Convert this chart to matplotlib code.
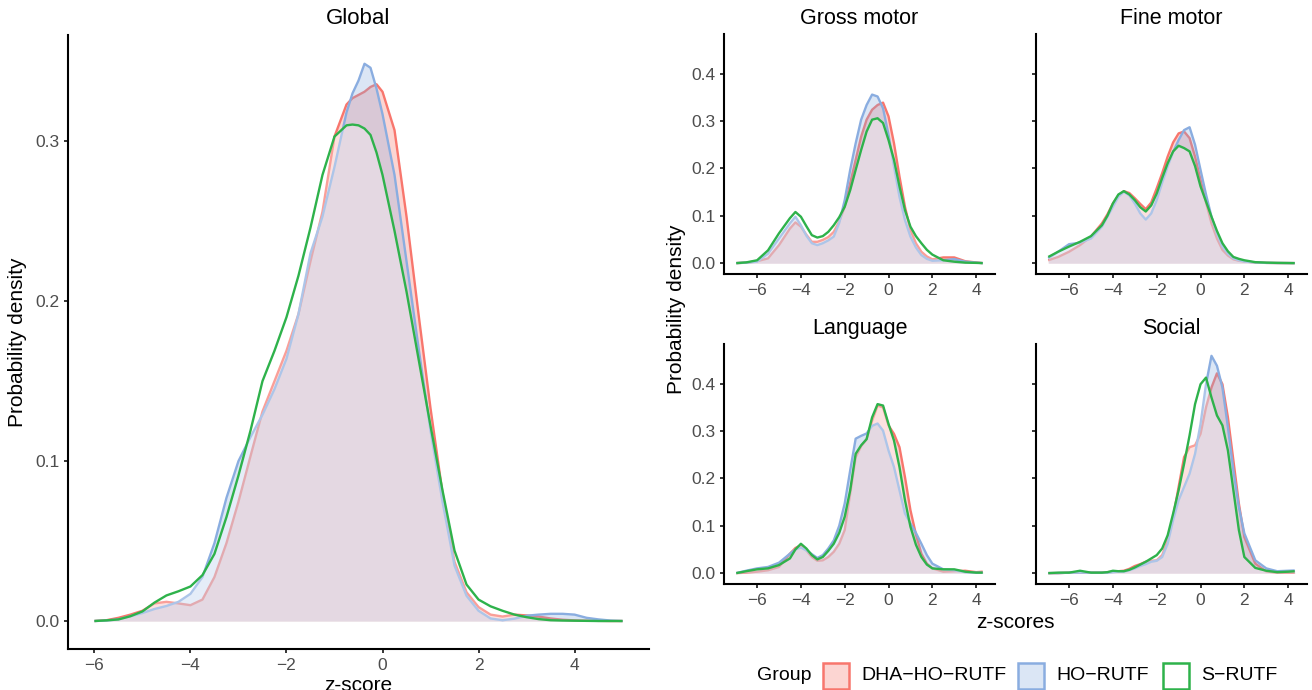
import matplotlib
matplotlib.use("Agg")
import matplotlib.pyplot as plt
from matplotlib.patches import Rectangle
import numpy as np

plt.rcParams['font.family'] = ['Liberation Sans', 'DejaVu Sans']

W, H = 1312, 690

groups = ['DHA\u2212HO\u2212RUTF', 'HO\u2212RUTF', 'S\u2212RUTF']
line_cols = ['#F8766D', '#8AADE0', '#2EB24B']
fill_cols = ['#F8766D', '#8AADE0', '#FFFFFF']

# Global panel
z_global = [-6, -5.75, -5.5, -5.25, -5, -4.75, -4.5, -4.25, -4, -3.75, -3.5, -3.25, -3,
            -2.75, -2.5, -2.25, -2, -1.75, -1.5, -1.25, -1, -0.75, -0.625, -0.5, -0.375,
            -0.25, -0.125, 0, 0.25, 0.5, 0.75, 1, 1.25, 1.5, 1.75, 2, 2.25, 2.5, 2.75, 3,
            3.25, 3.5, 3.75, 4, 4.25, 4.5, 4.75, 5]
global_dha = [0, 0.0005, 0.002, 0.004, 0.0064, 0.011, 0.012, 0.011, 0.0099, 0.0134, 0.0275,
              0.0487, 0.0746, 0.103, 0.131, 0.150, 0.169, 0.192, 0.225, 0.256, 0.303, 0.323,
              0.327, 0.329, 0.331, 0.334, 0.3357,
              0.331, 0.307, 0.253, 0.192, 0.133, 0.080, 0.037, 0.018, 0.0087, 0.004, 0.0028,
              0.004, 0.0035, 0.0028, 0.0016, 0.0008, 0.0004, 0.0002, 0.0001, 0, 0]
global_ho = [0, 0.0003, 0.001, 0.003, 0.005, 0.0075, 0.0094, 0.012, 0.017, 0.0275, 0.0487,
             0.077, 0.100, 0.115, 0.129, 0.145, 0.164, 0.192, 0.230, 0.253, 0.284, 0.318,
             0.330, 0.338, 0.3485, 0.346, 0.333,
             0.317, 0.279, 0.225, 0.171, 0.119, 0.0746, 0.0346, 0.0158, 0.0064, 0.0016, 0.0005,
             0.0015, 0.0033, 0.004, 0.0045, 0.0045, 0.004, 0.002, 0.001, 0.0003, 0]
global_s = [0, 0.0004, 0.001, 0.003, 0.006, 0.0115, 0.016, 0.0186, 0.0216, 0.0287, 0.042,
            0.065, 0.091, 0.119, 0.150, 0.169, 0.190, 0.216, 0.246, 0.279, 0.303, 0.310,
            0.3105, 0.310, 0.308, 0.304, 0.293,
            0.279, 0.244, 0.206, 0.164, 0.122, 0.0816, 0.044, 0.0228, 0.0134, 0.0092, 0.0064,
            0.004, 0.0024, 0.0012, 0.0005, 0.0003, 0.0002, 0.0001, 0, 0, 0]

# Domain panels
z_dom = [-6.95, -6.5, -6, -5.5, -5, -4.5, -4.25, -4, -3.75, -3.5, -3.25, -3, -2.75, -2.5,
         -2.25, -2, -1.75, -1.5, -1.25, -1, -0.75, -0.5, -0.25, 0, 0.25, 0.5, 0.75, 1,
         1.25, 1.5, 1.75, 2, 2.5, 3, 3.5, 4, 4.3]

gross_dha = [0, .001, .004, .010, .038, .073, .086, .077, .060, .045, .045, .049, .055, .066,
             .088, .119, .169, .218, .267, .303, .324, .334, .339, .310, .253, .183, .119, .070,
             .042, .024, .014, .008, .012, .012, .004, .0014, 0]
gross_ho = [0, .001, .003, .020, .052, .084, .098, .080, .058, .042, .038, .042, .048, .056,
            .085, .133, .197, .253, .303, .334, .356, .352, .327, .271, .204, .140, .091, .056,
            .033, .017, .009, .005, .006, .0085, .003, .001, 0]
gross_s = [0, .0015, .006, .027, .063, .095, .108, .098, .078, .059, .054, .057, .066, .080,
           .097, .119, .154, .197, .239, .278, .303, .306, .296, .260, .218, .162, .112, .077,
           .057, .042, .028, .018, .006, .003, .001, .0005, 0]

fine_dha = [.006, .013, .024, .038, .056, .084, .103, .126, .143, .152, .148, .137, .125, .114,
            .128, .158, .190, .225, .255, .274, .278, .264, .225, .176, .128, .084, .052, .028,
            .016, .008, .005, .0035, .0014, .0005, .0002, .0001, 0]
fine_ho = [.010, .024, .040, .043, .052, .077, .098, .119, .140, .151, .143, .126, .105, .092,
           .105, .133, .170, .204, .235, .260, .281, .287, .250, .197, .145, .098, .062, .035,
           .020, .010, .006, .0035, .0014, .0005, .0002, .0001, 0]
fine_s = [.013, .024, .035, .045, .057, .080, .100, .126, .145, .152, .145, .133, .118, .109,
          .122, .147, .180, .211, .236, .248, .243, .236, .205, .162, .130, .098, .068, .042,
          .025, .013, .009, .006, .002, .001, .0005, .0002, 0]

lang_dha = [0, .001, .003, .006, .013, .041, .053, .059, .048, .034, .026, .027, .034, .045,
            .062, .091, .168, .245, .268, .283, .322, .354, .350, .312, .294, .266, .203, .133,
            .082, .041, .020, .010, .003, .004, .005, .002, .003]
lang_ho = [0, .005, .010, .013, .022, .041, .050, .054, .048, .040, .032, .038, .052, .069,
           .100, .147, .217, .284, .290, .295, .311, .316, .301, .259, .224, .175, .126, .105,
           .085, .062, .038, .020, .008, .006, .002, .001, .001]
lang_s = [0, .004, .008, .010, .017, .031, .050, .062, .052, .038, .029, .034, .047, .062,
          .085, .119, .175, .252, .270, .283, .329, .357, .354, .315, .280, .224, .154, .098,
          .060, .034, .018, .010, .008, .008, .003, .001, .001]

soc_dha = [0, 0, .001, .001, .001, .001, .002, .003, .004, .005, .009, .015, .019, .024,
           .026, .027, .038, .069, .119, .182, .245, .266, .270, .294, .350, .392, .422, .399,
           .329, .238, .147, .076, .020, .0035, .001, .001, .001]
soc_ho = [0, 0, .001, .001, .001, .001, .001, .002, .003, .003, .006, .010, .015, .019,
          .024, .026, .034, .062, .112, .154, .182, .210, .252, .315, .399, .459, .438, .392,
          .308, .217, .140, .084, .027, .010, .004, .005, .0056]
soc_s = [0, .001, .001, .005, .001, .001, .002, .005, .004, .004, .007, .012, .018, .024,
         .031, .038, .052, .080, .126, .175, .231, .291, .357, .399, .413, .371, .333, .312,
         .259, .175, .091, .034, .011, .005, .002, .003, .004]

panels = [
    ('Gross motor', (724, 34, 995, 274), [gross_dha, gross_ho, gross_s], True),
    ('Fine motor', (1036, 34, 1307, 274), [fine_dha, fine_ho, fine_s], False),
    ('Language', (724, 344, 995, 584), [lang_dha, lang_ho, lang_s], True),
    ('Social', (1036, 344, 1307, 584), [soc_dha, soc_ho, soc_s], False),
]


def rect(l, t, r, b):
    return [l / W, 1 - b / H, (r - l) / W, (b - t) / H]


def style(ax):
    for s in ['top', 'right']:
        ax.spines[s].set_visible(False)
    for s in ['left', 'bottom']:
        ax.spines[s].set_linewidth(1.5)
        ax.spines[s].set_color('black')
    ax.tick_params(direction='out', length=3.2, width=1.1, color='black',
                   labelcolor='#4D4D4D', labelsize=12.5, pad=3)


def draw_densities(ax, x, series):
    for i, y in enumerate(series):
        ax.fill_between(x, 0, y, color=fill_cols[i], alpha=0.3, lw=0, zorder=2 * i + 1)
        ax.plot(x, y, color=line_cols[i], lw=1.7, zorder=2 * i + 2, solid_capstyle='butt')


fig = plt.figure(figsize=(W / 100, H / 100), dpi=100)

ax = fig.add_axes(rect(68, 35, 649, 649))
draw_densities(ax, z_global, [global_dha, global_ho, global_s])
ax.set_xlim(-6.55, 5.55)
ax.set_ylim(-0.0175, 0.3665)
ax.set_xticks([-6, -4, -2, 0, 2, 4])
ax.set_yticks([0.0, 0.1, 0.2, 0.3])
ax.set_yticklabels(['0.0', '0.1', '0.2', '0.3'])
style(ax)
fig.text(358.5 / W, 1 - 18 / H, 'Global', ha='center', va='center', fontsize=16)
fig.text(18 / W, 1 - 342 / H, 'Probability density', ha='center', va='center',
         rotation=90, fontsize=15)
fig.text(358.5 / W, 1 - 691 / H, 'z-score', ha='center', va='baseline', fontsize=15)

for title, box, series, show_y in panels:
    ax = fig.add_axes(rect(*box))
    draw_densities(ax, z_dom, series)
    ax.set_xlim(-7.51, 4.86)
    ax.set_ylim(-0.023, 0.484)
    ax.set_xticks([-6, -4, -2, 0, 2, 4])
    ax.set_yticks([0.0, 0.1, 0.2, 0.3, 0.4])
    ax.set_yticklabels(['0.0', '0.1', '0.2', '0.3', '0.4'])
    style(ax)
    if not show_y:
        ax.tick_params(labelleft=False)
    cx = (box[0] + box[2]) / 2
    fig.text(cx / W, 1 - (box[1] - 16) / H, title, ha='center', va='center', fontsize=15.5)

fig.text(677 / W, 1 - 309 / H, 'Probability density', ha='center', va='center',
         rotation=90, fontsize=15)
fig.text(1015 / W, 1 - 622 / H, 'z-scores', ha='center', va='center', fontsize=15)

# legend
fig.text(757 / W, 1 - 676 / H, 'Group', ha='left', va='center', fontsize=14)
key_left = [823, 1018, 1163]
for i, g in enumerate(groups):
    fig.patches.append(Rectangle((key_left[i] / W, 1 - 689 / H), 26 / W, 26 / H,
                                 transform=fig.transFigure, facecolor=fill_cols[i],
                                 alpha=0.3, edgecolor='none'))
    fig.patches.append(Rectangle((key_left[i] / W, 1 - 689 / H), 26 / W, 26 / H,
                                 transform=fig.transFigure, facecolor='none',
                                 edgecolor=line_cols[i], lw=1.8))
    fig.text((key_left[i] + 38) / W, 1 - 676 / H, g, ha='left', va='center', fontsize=14)

fig.savefig('out.png', dpi=100)
